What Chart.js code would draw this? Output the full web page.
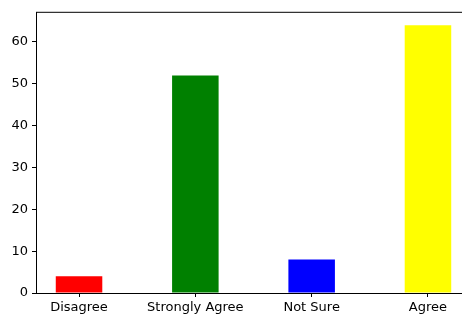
<!DOCTYPE html>
<html>
<head>
<meta charset="utf-8">
<script src="https://cdn.jsdelivr.net/npm/chart.js@4"></script>
<style>
  html, body { margin: 0; padding: 0; background: #fff; overflow: hidden; }
  #wrap { width: 480px; height: 315px; }
</style>
</head>
<body>
<div id="wrap"><canvas id="chart" width="480" height="315"></canvas></div>
<script>
const categories = ['Disagree', 'Strongly Agree', 'Not Sure', 'Agree'];
const counts = [4, 52, 8, 64];
const barColors = ['#ff0000', '#008000', '#0000ff', '#ffff00'];
const yTicks = [0, 10, 20, 30, 40, 50, 60];

const FONT = { family: 'DejaVu Sans', size: 13 };

// matplotlib style frame: top + right spines drawn around chart area
const frame = {
    id: 'frame',
    afterDraw(chart) {
        const { ctx, chartArea: a } = chart;
        ctx.save();
        ctx.strokeStyle = '#000';
        ctx.lineWidth = 1;
        ctx.strokeRect(a.left + 0.5, a.top + 0.5, a.right - a.left, a.bottom - a.top);
        ctx.restore();
    }
};

new Chart(document.getElementById('chart'), {
    type: 'bar',
    data: {
        datasets: [{
            data: counts.map((v, i) => ({ x: i, y: v })),
            backgroundColor: barColors,
            borderWidth: 0,
            barPercentage: 0.4,
            categoryPercentage: 1
        }]
    },
    options: {
        responsive: false,
        animation: false,
        layout: { padding: { top: 11, right: 9, left: 0, bottom: 0 } },
        plugins: { legend: { display: false }, tooltip: { enabled: false } },
        scales: {
            x: {
                type: 'linear',
                offset: false,
                min: -0.37,
                max: 3.37,
                afterBuildTicks: s => { s.ticks = categories.map((c, i) => ({ value: i })); },
                afterFit: s => { s.height = 22; },
                ticks: {
                    color: '#000',
                    font: FONT,
                    padding: 3,
                    maxRotation: 0,
                    autoSkip: false,
                    callback: v => categories[v]
                },
                grid: { offset: false, drawOnChartArea: false, tickLength: 4, tickColor: '#000' },
                border: { display: false }
            },
            y: {
                min: 0,
                max: 67.2,
                afterBuildTicks: s => { s.ticks = yTicks.map(v => ({ value: v })); },
                afterFit: s => { s.width = 36; },
                ticks: { color: '#000', font: FONT, padding: 4 },
                grid: { drawOnChartArea: false, tickLength: 4, tickColor: '#000' },
                border: { display: false }
            }
        }
    },
    plugins: [frame]
});
</script>
</body>
</html>
